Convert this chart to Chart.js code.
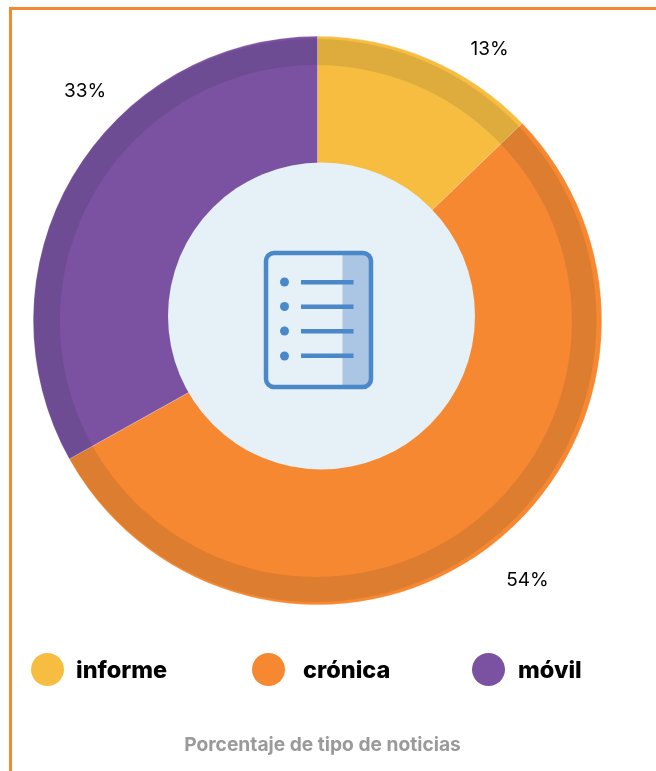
<!DOCTYPE html>
<html lang="es">
<head>
<meta charset="utf-8">
<script src="https://cdn.jsdelivr.net/npm/chart.js@4/dist/chart.umd.min.js"></script>
<style>
    html, body { margin: 0; padding: 0; background: #fff; }
    body { width: 656px; height: 771px; position: relative; overflow: hidden; font-family: Inter, "Noto Sans", sans-serif; }
    #frame { position: absolute; left: 8.5px; top: 6.5px; width: 660px; height: 780px; border: 3px solid #f78832; box-sizing: border-box; }
    canvas { position: absolute; left: 33px; top: 36px; }
    #overlay { position: absolute; left: 0; top: 0; }
    .pct { position: absolute; font-size: 19px; font-weight: 400; color: #000; transform: translate(-50%, -50%); white-space: nowrap; }
    .swatch { position: absolute; width: 33px; height: 33px; border-radius: 50%; top: 653px; }
    .name { position: absolute; top: 669px; transform: translateY(-50%); font-size: 23.5px; font-weight: 800; color: #000; white-space: nowrap; }
    #caption { position: absolute; left: 322.5px; top: 744px; transform: translate(-50%, -50%); font-size: 19.2px; font-weight: 700; color: #9a9a9a; white-space: nowrap; }
</style>
</head>
<body>
<div id="frame"></div>
<canvas id="chart" width="569" height="569" style="width:569px;height:569px"></canvas>
<svg id="overlay" width="656" height="771" viewBox="0 0 656 771">
    <!-- darker band, slightly off centre from the pie -->
    <path fill-rule="evenodd" fill="rgb(0,30,30)" fill-opacity="0.1"
        d="M33.5 320.5 a281.5 281.5 0 1 0 563 0 a281.5 281.5 0 1 0 -563 0 Z
           M59.9 321 a256 256 0 1 0 512 0 a256 256 0 1 0 -512 0 Z"/>
    <circle cx="321.5" cy="316" r="153.5" fill="#e5f0f7"/>
    <path d="M342.5 254 H360 Q370 254 370 264 V376 Q370 386 360 386 H342.5 Z" fill="#abc5e4"/>
    <rect x="266" y="253" width="105" height="134" rx="8" fill="none" stroke="#4a88c9" stroke-width="4.5"/>
    <g fill="#4a88c9">
        <circle cx="284.5" cy="282" r="4.5"/><circle cx="284.5" cy="306.5" r="4.5"/>
        <circle cx="284.5" cy="331" r="4.5"/><circle cx="284.5" cy="356" r="4.5"/>
        <rect x="301" y="280" width="52.5" height="4.5"/><rect x="301" y="304.5" width="52.5" height="4.5"/>
        <rect x="301" y="329" width="52.5" height="4.5"/><rect x="301" y="353.5" width="52.5" height="4.5"/>
    </g>
</svg>
<div id="labels"></div>
<div id="legend"></div>
<div id="caption">Porcentaje de tipo de noticias</div>

<script>
const categories = ['informe', 'crónica', 'móvil'];
// the labels show them rounded
const values = [12.8, 54.1, 33.1];
const sliceColors = ['#f6bd40', '#f78832', '#7b52a1'];

// where the percent labels and legend entries sit on the page
const labelSpots = [[489.5, 48], [527.5, 579], [85, 90]];
const swatchX = [31, 252, 472];
const nameX = [76, 303, 518];

new Chart(document.getElementById('chart'), {
    type: 'pie',
    data: {
        labels: categories,
        datasets: [{
            data: values,
            backgroundColor: sliceColors,
            borderColor: 'rgba(255,255,255,0.4)',
            borderWidth: 0.5
        }]
    },
    options: {
        animation: false,
        responsive: false,
        plugins: { legend: { display: false }, tooltip: { enabled: false } }
    }
});

const labelBox = document.getElementById('labels');
values.forEach((v, i) => {
    const el = document.createElement('div');
    el.className = 'pct';
    el.innerText = Math.round(v) + '%';
    el.style.left = labelSpots[i][0] + 'px';
    el.style.top = labelSpots[i][1] + 'px';
    labelBox.appendChild(el);
});

const legendBox = document.getElementById('legend');
categories.forEach((name, i) => {
    const dot = document.createElement('div');
    dot.className = 'swatch';
    dot.style.left = swatchX[i] + 'px';
    dot.style.background = sliceColors[i];
    legendBox.appendChild(dot);

    const txt = document.createElement('div');
    txt.className = 'name';
    txt.style.left = nameX[i] + 'px';
    txt.innerText = name;
    legendBox.appendChild(txt);
});
</script>
</body>
</html>
